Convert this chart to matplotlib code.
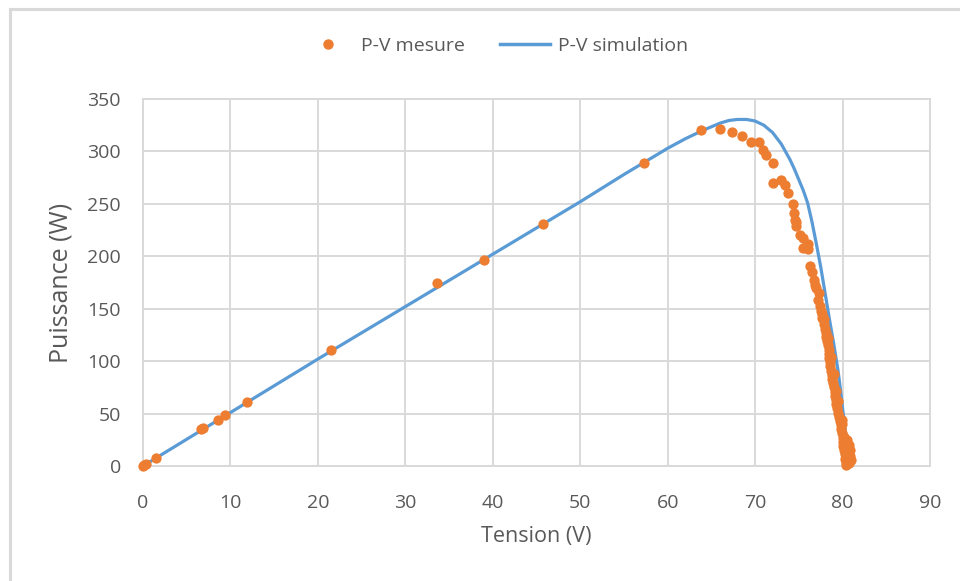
import matplotlib.pyplot as plt
from matplotlib.lines import Line2D

# Mesures (tension en V, puissance en W) - 10 valeurs par ligne
mesure_v = [0.0, 0.1, 0.3, 1.5, 6.6, 6.9, 8.6, 9.4, 11.9, 21.5,
            33.6, 39.0, 45.8, 57.3, 63.8, 66.0, 67.3, 68.5, 69.5, 70.5,
            70.9, 71.2, 72.1, 72.1, 73.0, 73.4, 73.8, 74.3, 74.4, 74.6,
            74.7, 74.7, 75.1, 75.5, 75.5, 76.1, 76.1, 76.3, 76.5, 76.7,
            77.0, 77.3, 77.2, 77.4, 77.5, 77.7, 77.9, 77.9, 78.0, 78.1,
            78.1, 78.2, 78.3, 78.4, 78.4, 78.5, 78.6, 78.6, 78.7, 78.8,
            78.8, 78.9, 79.0, 79.1, 79.1, 79.2, 79.3, 79.4, 79.5, 79.6,
            79.7, 79.8, 79.8, 79.9, 80.0, 80.1, 80.1, 80.2, 80.3, 80.3,
            80.4, 80.4, 80.5, 80.7, 80.8, 80.9, 81.0, 80.7, 80.6, 79.9,
            76.9, 77.6, 78.3, 78.7, 79.0, 79.3, 79.5, 79.9, 80.2, 80.5]
mesure_p = [0, 1, 2, 7.5, 35, 36, 44, 49, 61, 111,
            175, 196, 231, 289, 320, 321, 319, 315, 309, 309,
            301, 297, 289, 270, 273, 268, 260, 250, 241, 235,
            229, 233, 220, 217, 208, 212, 207, 191, 185, 177,
            170, 165, 158, 153, 148, 145, 140, 135, 131, 127,
            123, 119, 115, 111, 107, 103, 99, 95, 91, 87,
            83, 79, 75, 71, 67, 63, 59, 55, 51, 47,
            43, 39, 35, 31, 27, 23, 19, 15, 11, 7,
            4, 1, 25, 20, 15, 10, 6, 3, 9, 40,
            173, 141, 122, 104, 88, 72, 62, 44, 28, 18]

# Simulation
sim_v = [0, 5, 10, 20, 30, 40, 50, 55, 60, 62, 64, 66, 67, 68, 69, 70, 71, 72, 73,
         74, 74.5, 75, 75.5, 76, 76.5, 77, 77.5, 78, 78.5, 79, 79.5, 79.8, 80, 80.2,
         80.4, 80.6, 80.8]
sim_p = [0, 25.5, 51, 102, 152, 202, 252, 278, 303, 312, 320, 327, 329.5, 330.5, 330.5,
         329, 325, 318, 307, 292, 283, 273, 263, 251, 233, 212, 190, 165, 140, 116,
         90, 70, 55, 42, 28, 14, 0]

orange = '#ED7D31'
bleu = '#5B9BD5'
gris = '#595959'

fig = plt.figure(figsize=(9.6, 5.81), dpi=100)
ax = fig.add_axes([143/960, 1 - 466/581, 787/960, 367/581])

ax.plot(sim_v, sim_p, color=bleu, lw=2.3, zorder=3)
ax.scatter(mesure_v, mesure_p, s=55, color=orange, zorder=4, lw=0, clip_on=False)

ax.set_xlim(0, 90)
ax.set_ylim(0, 350)
ax.set_xticks(range(0, 91, 10))
ax.set_yticks(range(0, 351, 50))
ax.grid(True, color='#D9D9D9', lw=1.4)
ax.set_axisbelow(True)
for s in ax.spines.values():
    s.set_color('#D9D9D9')
    s.set_linewidth(1.4)
ax.tick_params(length=0, labelsize=14, labelcolor=gris, pad=20)
ax.tick_params(axis='y', pad=16)
for lab in ax.get_xticklabels() + ax.get_yticklabels():
    lab.set_family('Open Sans')

ax.set_xlabel('Tension (V)', fontsize=15.5, color=gris, family='Open Sans', labelpad=10)
ax.set_ylabel('Puissance (W)', fontsize=18, color=gris, family='Open Sans', labelpad=10)

handles = [Line2D([], [], ls='none', marker='o', ms=7.5, color=orange, mec='none'),
           Line2D([], [], color=bleu, lw=2.5)]
fig.legend(handles, ['P-V mesure', 'P-V simulation'], loc='center', ncol=2,
           bbox_to_anchor=(0.516, 1 - 46/581), frameon=False, handlelength=2.6,
           columnspacing=1.8, handletextpad=0.4, prop={'family': 'Open Sans', 'size': 14},
           labelcolor=gris)

# cadre du graphique
fig.add_artist(Line2D([10/960, 10/960], [0, 1 - 9/581], color='#D9D9D9', lw=2.2))
fig.add_artist(Line2D([10/960, 1], [1 - 9/581, 1 - 9/581], color='#D9D9D9', lw=2.2))

fig.savefig('out.png', dpi=100)
